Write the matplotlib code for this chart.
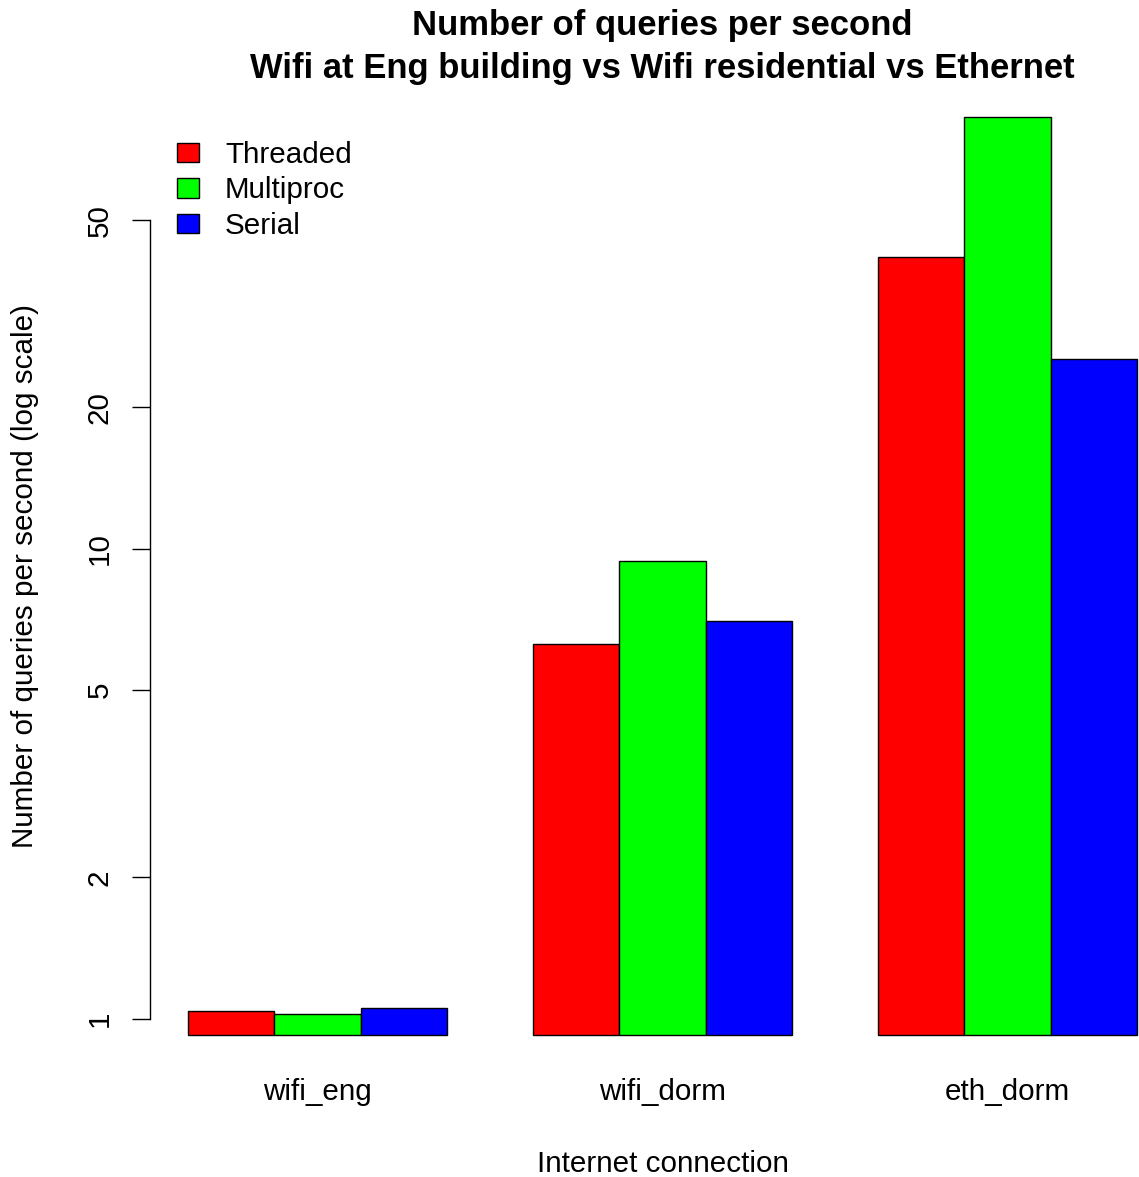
import numpy as np
import matplotlib
matplotlib.use("Agg")
import matplotlib.pyplot as plt
from matplotlib.patches import Patch

# Queries per second by connection type and client strategy
connections = ["wifi_eng", "wifi_dorm", "eth_dorm"]
methods = ["Threaded", "Multiproc", "Serial"]
threaded = [1.041, 6.28, 41.8]
multiproc = [1.025, 9.44, 83.0]
serial = [1.055, 7.02, 25.3]
colors = ["#ff0000", "#00ff00", "#0000ff"]
y_ticks = [1, 2, 5, 10, 20, 50]

plt.rcParams["font.family"] = ["Liberation Sans", "DejaVu Sans"]

W, H = 1139, 1177
DPI = 100
fig = plt.figure(figsize=(W / DPI, H / DPI), dpi=DPI)


def fx(px):
    return px / W


def fy(py):
    return 1 - py / H


# plot region (R-style, extends past the right edge)
ax = fig.add_axes([fx(150), fy(1072), fx(1175) - fx(150), fy(80) - fy(1072)])

series = [threaded, multiproc, serial]
all_vals = np.concatenate([np.asarray(s, float) for s in series])
base = 0.9 * all_vals.min()

n_groups = len(connections)
n_series = len(series)
for i, (vals, col, name) in enumerate(zip(series, colors, methods)):
    lefts = [1 + g * (n_series + 1) + i for g in range(n_groups)]
    heights = [v - base for v in vals]
    ax.bar(lefts, heights, bottom=base, width=1.0, align="edge",
           color=col, edgecolor="black", linewidth=1.0, label=name)

# axis limits with 4% extension
x_lo, x_hi = 1, n_groups * (n_series + 1)
xr = x_hi - x_lo
ax.set_xlim(x_lo - 0.04 * xr, x_hi + 0.04 * xr)
ax.set_yscale("log")
lo, hi = np.log10(base), np.log10(all_vals.max())
ext = 0.04 * (hi - lo)
ax.set_ylim(10 ** (lo - ext), 10 ** (hi + ext))

for s in ["top", "right", "bottom"]:
    ax.spines[s].set_visible(False)
ax.spines["left"].set_bounds(y_ticks[0], y_ticks[-1])
ax.spines["left"].set_linewidth(1.0)

ax.yaxis.set_minor_locator(matplotlib.ticker.NullLocator())
ax.set_yticks(y_ticks)
ax.set_yticklabels([str(t) for t in y_ticks])
ax.tick_params(axis="y", length=13, width=1.0, pad=13, labelsize=21.3,
               labelrotation=90)
for lab in ax.get_yticklabels():
    lab.set_va("center")

centers = [1 + g * (n_series + 1) + n_series / 2 for g in range(n_groups)]
ax.set_xticks(centers)
ax.set_xticklabels(connections)
ax.tick_params(axis="x", length=0, pad=4.5, labelsize=21.3)

# titles and axis labels
fig.text(fx(662.5), fy(35), "Number of queries per second", ha="center",
         va="baseline", fontsize=24.9, fontweight="bold")
fig.text(fx(662.5), fy(78), "Wifi at Eng building vs Wifi residential vs Ethernet",
         ha="center", va="baseline", fontsize=24.9, fontweight="bold")
fig.text(fx(662.5), fy(1172), "Internet connection", ha="center",
         va="baseline", fontsize=21.3)
fig.text(fx(25), fy(576), "Number of queries per second (log scale)",
         ha="center", va="center", rotation=90, fontsize=21.3)

handles = [Patch(facecolor=c, edgecolor="black", linewidth=1.0) for c in colors]
ax.legend(handles, methods, loc="upper left",
          bbox_to_anchor=(fx(177), fy(141)), bbox_transform=fig.transFigure,
          frameon=False, fontsize=21.3, borderpad=0, borderaxespad=0,
          handlelength=0.74, handleheight=0.64, handletextpad=0.88,
          labelspacing=0.25)

fig.savefig("out.png", dpi=DPI)
